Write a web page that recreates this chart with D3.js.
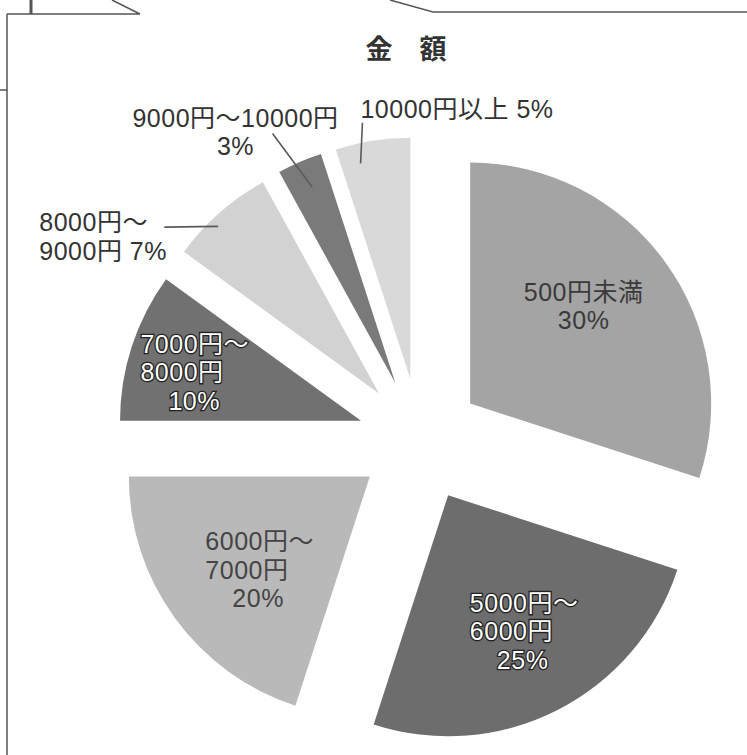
<!DOCTYPE html>
<html>
<head>
<meta charset="utf-8">
<script src="https://cdn.jsdelivr.net/npm/d3@7"></script>
<style>
  body { margin: 0; background: #fff; }
  text { font-family: "Liberation Sans", "Noto Sans CJK JP", sans-serif; }
  .title { font-family: "Noto Sans CJK JP", sans-serif; }
</style>
</head>
<body>
<div id="chart"></div>
<script>
// Data (clockwise from 12 o'clock)
const categories = ["500円未満", "5000円～6000円", "6000円～7000円", "7000円～8000円", "8000円～9000円", "9000円～10000円", "10000円以上"];
const percents = [30, 25, 20, 10, 7, 3, 5];
const labelLines = [
  ["500円未満", "30%"],
  ["5000円～", "6000円", "25%"],
  ["6000円～", "7000円", "20%"],
  ["7000円～", "8000円", "10%"],
  ["8000円～", "9000円 7%"],
  ["9000円～10000円", "3%"],
  ["10000円以上 5%"]
];
const title = "金　額";

// Look of the chart
const fills = ["#a4a4a4", "#6d6d6d", "#b9b9b9", "#717171", "#d2d2d2", "#7a7a7a", "#d9d9d9"];
const labelStyle = [
  { dx: 16, dy: -32, anchor: "middle", indent: 0, color: "#3a3a3a", halo: false },
  { dx: -33, dy: 9, anchor: "start", indent: 27, color: "#fff", halo: true },
  { dx: -67, dy: 3, anchor: "start", indent: 27, color: "#444", halo: false },
  { dx: -106, dy: -31, anchor: "start", indent: 28, color: "#fff", halo: true },
  { dx: -260, dy: -72, anchor: "start", indent: 0, color: "#333", halo: false,
    leader: { from: [125, -4], r: 232, da: -2.5 } },
  { dx: -112, dy: -146, anchor: "middle", indent: 0, color: "#333", halo: false,
    leader: { from: [37, 7], r: 213, da: 0.4 } },
  { dx: -31, dy: -142, anchor: "start", indent: 0, color: "#333", halo: false,
    leader: { from: [2, 5], r: 221, da: -4 } }
];

const width = 747, height = 755;
const cx = 420, cy = 440, radius = 241, explode = 62, lineHeight = 28.5;

const svg = d3
  .select("#chart")
  .append("svg")
  .attr("width", width)
  .attr("height", height);

svg.append("rect").attr("width", width).attr("height", height).attr("fill", "#fff");

// Scanned page frame
const frame = svg.append("g").attr("fill", "none").attr("stroke", "#555").attr("stroke-width", 1.5);
frame.append("path").attr("d", "M7,14 V755 M7,14 H140 M112,0 L140,14 M390,0 L433,12 H747 M0,90 H7");
frame.append("path").attr("d", "M31,0 V14").attr("stroke-width", 3);

// Title
svg
  .append("text")
  .attr("class", "title")
  .attr("x", 406)
  .attr("y", 59)
  .attr("text-anchor", "middle")
  .attr("font-size", 27)
  .attr("font-weight", "bold")
  .attr("fill", "#333")
  .text(title);

// Pie layout, keeps the order of the data
const pie = d3.pie().sort(null).startAngle(0).endAngle(2 * Math.PI);
const arcs = pie(percents);
const arc = d3.arc().innerRadius(0).outerRadius(radius);

function polar(r, a) {
  return [r * Math.sin(a), -r * Math.cos(a)];
}

const chart = svg.append("g").attr("transform", "translate(" + cx + "," + cy + ")");

// Each slice is pulled out along its bisector
const slice = chart
  .selectAll(".slice")
  .data(arcs)
  .enter()
  .append("g")
  .attr("class", "slice")
  .attr("transform", function (d) {
    const p = polar(explode, (d.startAngle + d.endAngle) / 2);
    return "translate(" + p[0] + "," + p[1] + ")";
  });

slice
  .append("path")
  .attr("d", arc)
  .attr("fill", function (d, i) {
    return fills[i];
  });

// Leader lines of the small slices
slice
  .filter(function (d, i) {
    return labelStyle[i].leader;
  })
  .append("line")
  .attr("stroke", "#5a5a5a")
  .attr("stroke-width", 1.6)
  .each(function (d) {
    const st = labelStyle[d.index];
    const c = arc.centroid(d);
    const end = polar(st.leader.r, (d.startAngle + d.endAngle) / 2 + (st.leader.da * Math.PI) / 180);
    d3.select(this)
      .attr("x1", c[0] + st.dx + st.leader.from[0])
      .attr("y1", c[1] + st.dy + st.leader.from[1])
      .attr("x2", end[0])
      .attr("y2", end[1]);
  });

// Labels, one text per line
slice.each(function (d) {
  const st = labelStyle[d.index];
  const c = arc.centroid(d);
  d3.select(this)
    .selectAll(".label")
    .data(labelLines[d.index])
    .enter()
    .append("text")
    .attr("class", "label")
    .attr("x", function (t, k) {
      return c[0] + st.dx + (k === 2 ? st.indent : 0);
    })
    .attr("y", function (t, k) {
      return c[1] + st.dy + k * lineHeight;
    })
    .attr("font-size", 25)
    .attr("letter-spacing", 0.5)
    .attr("text-anchor", st.anchor)
    .attr("fill", st.color)
    .attr("stroke", st.halo ? "#222" : "none")
    .attr("stroke-width", 2.6)
    .attr("paint-order", "stroke")
    .text(function (t) {
      return t;
    });
});
</script>
</body>
</html>
